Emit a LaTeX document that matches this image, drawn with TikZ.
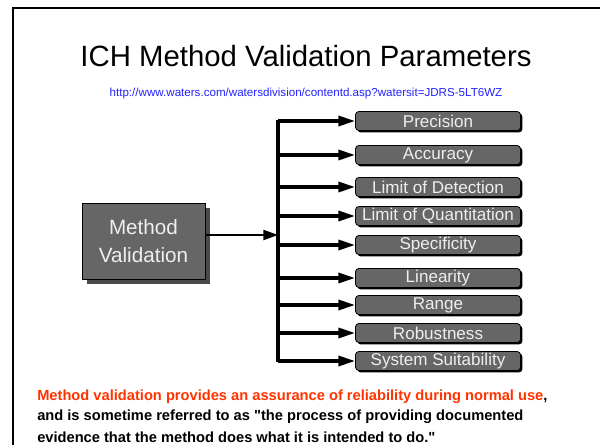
\documentclass[tikz,border=0pt]{standalone}
\usepackage{fontspec}
\setmainfont{Liberation Sans}[Ligatures=TeXOff]
\usetikzlibrary{arrows.meta,shadows}
\definecolor{boxgray}{HTML}{666666}
\definecolor{mainshadow}{HTML}{4A4A4A}
\definecolor{labelwhite}{HTML}{EEEEEE}
\definecolor{urlblue}{HTML}{2222FF}
\definecolor{notered}{HTML}{FF3300}
\tikzset{
  param/.style={draw=black, line width=0.6pt, fill=boxgray, rounded corners=2.5pt,
    minimum width=165*0.75pt, minimum height=19*0.75pt, inner sep=0pt,
    text=labelwhite, font=\fontsize{12.8}{13}\selectfont,
    drop shadow={shadow xshift=1.4pt, shadow yshift=-1.4pt, fill=black, opacity=1}},
  mainbox/.style={draw=black, line width=0.6pt, fill=boxgray, text=labelwhite,
    minimum width=123*0.75pt, minimum height=76*0.75pt, align=center,
    font=\fontsize{15.5}{21}\selectfont,
    drop shadow={shadow xshift=4pt, shadow yshift=-4pt, fill=mainshadow, opacity=1}},
  branch/.style={line width=2.4pt, -{Triangle[length=12.5pt,width=7.5pt]}},
  bus/.style={line width=2.4pt},
  feed/.style={line width=1.8pt, -{Triangle[length=11pt,width=7.5pt]}},
  note/.style={anchor=west, inner sep=0pt, font=\fontsize{11}{13}\selectfont\bfseries}
}
\begin{document}
\begin{tikzpicture}[x=0.75pt,y=-0.75pt]
\useasboundingbox (0,0) rectangle (600,445);
% page frame
\draw[line width=1.5pt] (13,445) -- (13,8) -- (600,8);

% heading and source link
\node[font=\fontsize{22}{26}\selectfont] (title) at (306,56) {ICH Method Validation Parameters};
\node[font=\fontsize{8.7}{10}\selectfont, text=urlblue] (url) at (306,94)
  {http://www.waters.com/watersdivision/contentd.asp?watersit=JDRS-5LT6WZ};

% source box
\node[mainbox] (mv) at (143.5,241) {Method\\Validation};

% parameter boxes
\node[param] (p1) at (438,121) {Precision};
\node[param] (p2) at (438,155) {Accuracy};
\node[param] (p3) at (438,187) {Limit of Detection};
\node[param] (p4) at (438,216) {Limit of Quantitation};
\node[param] (p5) at (438,245) {Specificity};
\node[param] (p6) at (438,278) {Linearity};
\node[param] (p7) at (438,305) {Range};
\node[param] (p8) at (438,333) {Robustness};
\node[param] (p9) at (438,361) {System Suitability};

% distribution bus
\coordinate (bustop) at (278,121);
\coordinate (busbot) at (278,361);
\coordinate (busin) at (278,235);
\draw[bus] ([yshift=0.9pt]bustop) -- ([yshift=-0.9pt]busbot);
\draw[feed] (mv.east |- busin) -- (busin);
\foreach \p in {p1,p2,p3,p4,p5,p6,p7,p8,p9}
  \draw[branch] (bustop |- \p.west) -- (\p.west);

% note
\node[note, text=notered] (n1) at (37,397)
  {Method validation provides an assurance of reliability during normal use\textcolor{black}{,}};
\node[note] (n2) at (37,417)
  {and is sometime referred to as "the process of providing documented};
\node[note] (n3) at (37,437)
  {evidence that the method does what it is intended to do."};
\end{tikzpicture}
\end{document}
